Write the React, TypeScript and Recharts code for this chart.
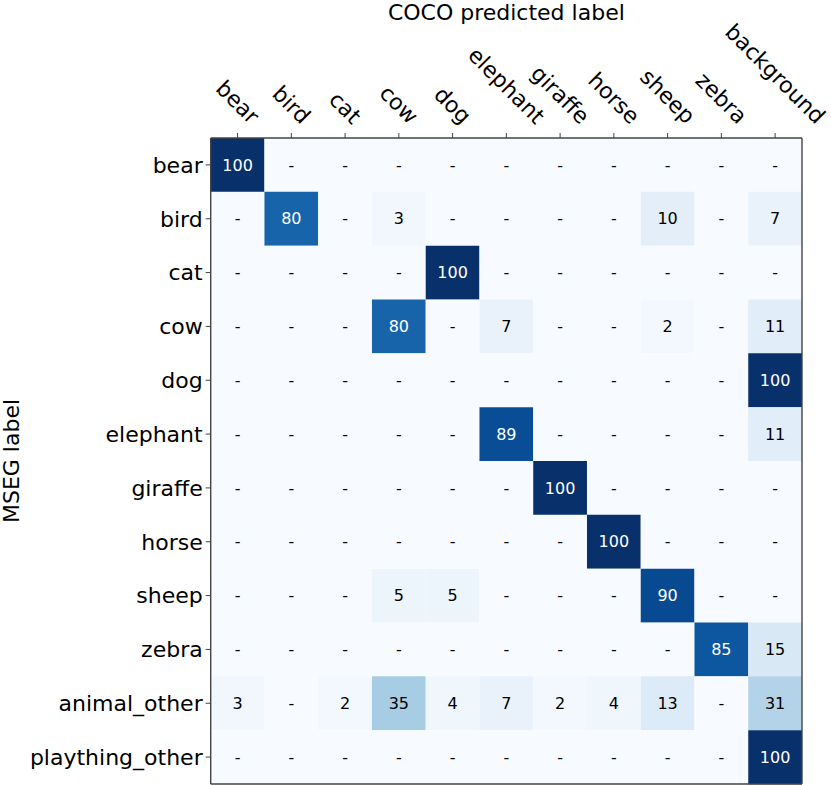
import React from 'react';
import { BarChart, Bar, XAxis, YAxis, Cell, LabelList } from 'recharts';

// column (COCO predicted) and row (MSEG) categories
const columns = ['bear', 'bird', 'cat', 'cow', 'dog', 'elephant', 'giraffe', 'horse', 'sheep', 'zebra', 'background'];
const rowLabels = ['bear', 'bird', 'cat', 'cow', 'dog', 'elephant', 'giraffe', 'horse', 'sheep', 'zebra', 'animal_other', 'plaything_other'];

// percentages per row, one entry per column
const bearRow = [100, 0, 0, 0, 0, 0, 0, 0, 0, 0, 0];
const birdRow = [0, 80, 0, 3, 0, 0, 0, 0, 10, 0, 7];
const catRow = [0, 0, 0, 0, 100, 0, 0, 0, 0, 0, 0];
const cowRow = [0, 0, 0, 80, 0, 7, 0, 0, 2, 0, 11];
const dogRow = [0, 0, 0, 0, 0, 0, 0, 0, 0, 0, 100];
const elephantRow = [0, 0, 0, 0, 0, 89, 0, 0, 0, 0, 11];
const giraffeRow = [0, 0, 0, 0, 0, 0, 100, 0, 0, 0, 0];
const horseRow = [0, 0, 0, 0, 0, 0, 0, 100, 0, 0, 0];
const sheepRow = [0, 0, 0, 5, 5, 0, 0, 0, 90, 0, 0];
const zebraRow = [0, 0, 0, 0, 0, 0, 0, 0, 0, 85, 15];
const animalOtherRow = [3, 0, 2, 35, 4, 7, 2, 4, 13, 0, 31];
const playthingOtherRow = [0, 0, 0, 0, 0, 0, 0, 0, 0, 0, 100];

const matrix = [
  bearRow, birdRow, catRow, cowRow, dogRow, elephantRow,
  giraffeRow, horseRow, sheepRow, zebraRow, animalOtherRow, playthingOtherRow,
];

const FONT = 'DejaVu Sans';
const AXIS_COLOR = '#444';

// matplotlib "Blues"
const BLUES = ['#f7fbff', '#deebf7', '#c6dbef', '#9ecae1', '#6baed6', '#4292c6', '#2171b5', '#08519c', '#08306b'];

function hexToRgb(h: string) {
  return [parseInt(h.slice(1, 3), 16), parseInt(h.slice(3, 5), 16), parseInt(h.slice(5, 7), 16)];
}

function blues(v: number) {
  const t = Math.max(0, Math.min(1, v / 100)) * (BLUES.length - 1);
  const i = Math.min(Math.floor(t), BLUES.length - 2);
  const f = t - i;
  const a = hexToRgb(BLUES[i]);
  const b = hexToRgb(BLUES[i + 1]);
  const c = a.map((x, k) => Math.round(x + (b[k] - x) * f));
  return `rgb(${c[0]},${c[1]},${c[2]})`;
}

// each row: one unit-wide stacked segment per column
const data = rowLabels.map((row, r) => {
  const o: Record<string, any> = { row };
  columns.forEach((_, c) => {
    o[`c${c}`] = 1;
    o[`v${c}`] = matrix[r][c];
  });
  return o;
});

const colTicks = columns.map((_, i) => i + 0.5);

let ctx: CanvasRenderingContext2D | null = null;
function textWidth(s: string, size: number) {
  if (!ctx) ctx = document.createElement('canvas').getContext('2d');
  if (!ctx) return s.length * size * 0.6;
  ctx.font = `${size}px "${FONT}"`;
  return ctx.measureText(s).width;
}

// rotated top labels, bbox centred on the tick like matplotlib's ha="center"
const TopTick = (props: any) => {
  const { x, payload } = props;
  const label = columns[Math.floor(payload.value)];
  const size = 22;
  const w = textWidth(label, size);
  const h = size * 1.164;
  const ext = (w + h) * Math.SQRT1_2;
  const bottom = 129;
  const cy = bottom - ext / 2;
  return (
    <text
      x={x}
      y={cy}
      textAnchor="middle"
      dominantBaseline="central"
      transform={`rotate(45, ${x}, ${cy})`}
      fontSize={size}
      fontFamily={FONT}
      fill="#000"
    >
      {label}
    </text>
  );
};

const CellText = (props: any) => {
  const { x, y, width, height, value } = props;
  const v = Number(value);
  return (
    <text
      x={x + width / 2}
      y={y + height / 2}
      textAnchor="middle"
      dominantBaseline="central"
      fontSize={16}
      fontFamily={FONT}
      fill={v > 50 ? '#fff' : '#000'}
    >
      {v === 0 ? '-' : v}
    </text>
  );
};

const TitleLabel = (props: any) => {
  const { viewBox } = props;
  return (
    <text x={viewBox.x + viewBox.width / 2} y={viewBox.y + 20} textAnchor="middle" fontSize={22} fontFamily={FONT} fill="#000">
      COCO predicted label
    </text>
  );
};

const SideLabel = (props: any) => {
  const { viewBox } = props;
  const x = viewBox.x + 19;
  const y = viewBox.y + viewBox.height / 2;
  return (
    <text x={x} y={y} textAnchor="middle" transform={`rotate(-90, ${x}, ${y})`} fontSize={22} fontFamily={FONT} fill="#000">
      MSEG label
    </text>
  );
};

export default function App() {
  return (
    <div style={{ position: 'absolute', left: 0, top: 0, background: '#fff' }}>
      <BarChart
        width={831}
        height={785}
        data={data}
        layout="vertical"
        margin={{ top: 0, right: 0, bottom: 0, left: 0 }}
        barCategoryGap={0}
        barGap={0}
      >
        <XAxis
          type="number"
          orientation="top"
          domain={[0, columns.length]}
          ticks={colTicks}
          interval={0}
          height={138}
          tickSize={5}
          tick={<TopTick />}
          tickLine={{ stroke: AXIS_COLOR, strokeWidth: 1 }}
          axisLine={{ stroke: AXIS_COLOR, strokeWidth: 1.4 }}
          allowDataOverflow
          label={<TitleLabel />}
        />
        <XAxis
          xAxisId="b"
          type="number"
          orientation="bottom"
          domain={[0, columns.length]}
          height={1}
          tick={false}
          tickLine={false}
          axisLine={{ stroke: AXIS_COLOR, strokeWidth: 1.4 }}
        />
        <YAxis
          type="category"
          dataKey="row"
          width={210.7}
          interval={0}
          tickSize={5}
          tickMargin={3}
          tick={{ fontSize: 22, fontFamily: FONT, fill: '#000' }}
          tickLine={{ stroke: AXIS_COLOR, strokeWidth: 1 }}
          axisLine={{ stroke: AXIS_COLOR, strokeWidth: 1.4 }}
          label={<SideLabel />}
        />
        <YAxis
          yAxisId="r"
          type="category"
          dataKey="row"
          orientation="right"
          width={29}
          tick={false}
          tickLine={false}
          axisLine={{ stroke: AXIS_COLOR, strokeWidth: 1.4 }}
        />
        {columns.map((col, c) => (
          <Bar key={col} dataKey={`c${c}`} stackId="m" isAnimationActive={false}>
            {data.map((d, r) => (
              <Cell key={`${col}-${r}`} fill={blues(d[`v${c}`])} />
            ))}
            <LabelList dataKey={`v${c}`} content={<CellText />} />
          </Bar>
        ))}
      </BarChart>
    </div>
  );
}
